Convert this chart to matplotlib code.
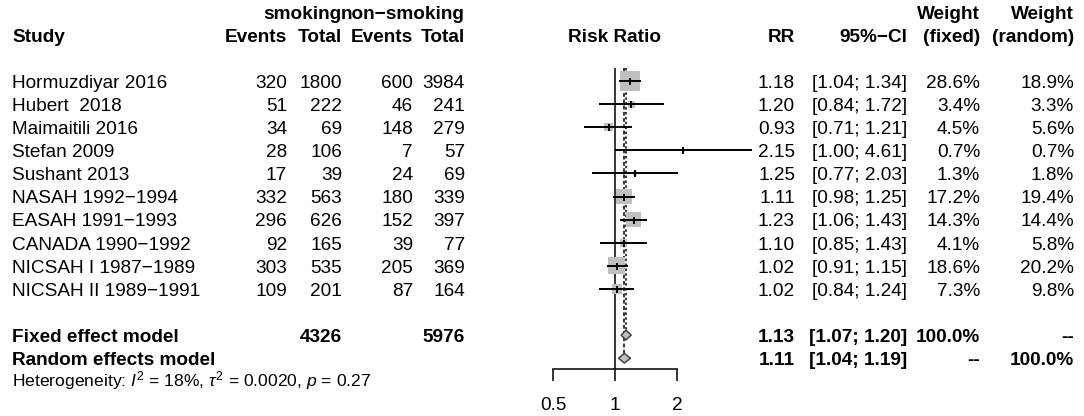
import matplotlib
matplotlib.use("Agg")
import matplotlib.pyplot as plt
from matplotlib.patches import Polygon
from matplotlib.ticker import NullLocator

plt.rcParams['font.family'] = ['Liberation Sans', 'DejaVu Sans']
plt.rcParams['mathtext.fontset'] = 'custom'
plt.rcParams['mathtext.rm'] = 'Liberation Sans'
plt.rcParams['mathtext.it'] = 'Liberation Sans:italic'
plt.rcParams['mathtext.bf'] = 'Liberation Sans:bold'

# ---------------- data ----------------
studies = ["Hormuzdiyar 2016", "Hubert  2018", "Maimaitili 2016", "Stefan 2009",
           "Sushant 2013", "NASAH 1992\u22121994", "EASAH 1991\u22121993",
           "CANADA 1990\u22121992", "NICSAH I 1987\u22121989", "NICSAH II 1989\u22121991"]
events_smoking = [320, 51, 34, 28, 17, 332, 296, 92, 303, 109]
total_smoking = [1800, 222, 69, 106, 39, 563, 626, 165, 535, 201]
events_nonsmoking = [600, 46, 148, 7, 24, 180, 152, 39, 205, 87]
total_nonsmoking = [3984, 241, 279, 57, 69, 339, 397, 77, 369, 164]
rr = [1.18, 1.20, 0.93, 2.15, 1.25, 1.11, 1.23, 1.10, 1.02, 1.02]
ci_low = [1.04, 0.84, 0.71, 1.00, 0.77, 0.98, 1.06, 0.85, 0.91, 0.84]
ci_high = [1.34, 1.72, 1.21, 4.61, 2.03, 1.25, 1.43, 1.43, 1.15, 1.24]
weight_fixed = [28.6, 3.4, 4.5, 0.7, 1.3, 17.2, 14.3, 4.1, 18.6, 7.3]
weight_random = [18.9, 3.3, 5.6, 0.7, 1.8, 19.4, 14.4, 5.8, 20.2, 9.8]

fixed_rr, fixed_low, fixed_high = 1.13, 1.07, 1.20
random_rr, random_low, random_high = 1.11, 1.04, 1.19
fixed_total_smoking, fixed_total_nonsmoking = 4326, 5976
heterogeneity = r"Heterogeneity: $I^2$ = 18%, $\tau^2$ = 0.0020, $p$ = 0.27"
xticks = [0.5, 1, 2]
xticklabels = ["0.5", "1", "2"]

# ---------------- layout ----------------
W, H, DPI = 1084, 416, 100
fig = plt.figure(figsize=(W / DPI, H / DPI), dpi=DPI)
fig.patch.set_facecolor('white')
tax = fig.add_axes([0, 0, 1, 1])
tax.set_xlim(0, W)
tax.set_ylim(H, 0)
tax.axis('off')

ROW0, DY = 81, 23.1
FS = 13.7
X_EV1, X_TOT1, X_EV2, X_TOT2 = 287, 342, 413, 465
X_RR, X_CI, X_WF, X_WR = 795, 907, 980, 1074


def rowy(r):
    return ROW0 + DY * r


def txt(x, r, s, ha='right', bold=False, size=FS):
    tax.text(x, rowy(r) + 0.358 * size * DPI / 72, s, ha=ha, va='baseline',
             fontsize=size, fontweight='bold' if bold else 'normal', color='black')


# headers
txt(341, -3, "smoking", bold=True)
txt(341, -3, "non\u2212smoking", ha='left', bold=True)
txt(12, -2, "Study", ha='left', bold=True)
txt(X_EV1, -2, "Events", bold=True)
txt(X_TOT1, -2, "Total", bold=True)
txt(X_EV2, -2, "Events", bold=True)
txt(X_TOT2, -2, "Total", bold=True)
txt(614, -2, "Risk Ratio", ha='center', bold=True)
txt(X_RR, -2, "RR", bold=True)
txt(X_CI, -2, "95%\u2212CI", bold=True)
txt(X_WF, -3, "Weight", bold=True)
txt(X_WF, -2, "(fixed)", bold=True)
txt(X_WR, -3, "Weight", bold=True)
txt(X_WR, -2, "(random)", bold=True)

for i, name in enumerate(studies):
    txt(12, i, name, ha='left')
    txt(X_EV1, i, str(events_smoking[i]))
    txt(X_TOT1, i, str(total_smoking[i]))
    txt(X_EV2, i, str(events_nonsmoking[i]))
    txt(X_TOT2, i, str(total_nonsmoking[i]))
    txt(X_RR, i, f"{rr[i]:.2f}")
    txt(X_CI, i, f"[{ci_low[i]:.2f}; {ci_high[i]:.2f}]")
    txt(X_WF, i, f"{weight_fixed[i]:.1f}%")
    txt(X_WR, i, f"{weight_random[i]:.1f}%")

rf, rr_ = 11, 12
txt(12, rf, "Fixed effect model", ha='left', bold=True)
txt(X_TOT1, rf, str(fixed_total_smoking), bold=True)
txt(X_TOT2, rf, str(fixed_total_nonsmoking), bold=True)
txt(X_RR, rf, f"{fixed_rr:.2f}", bold=True)
txt(X_CI, rf, f"[{fixed_low:.2f}; {fixed_high:.2f}]", bold=True)
txt(X_WF, rf, "100.0%", bold=True)
txt(X_WR, rf, "--", bold=True)
txt(12, rr_, "Random effects model", ha='left', bold=True)
txt(X_RR, rr_, f"{random_rr:.2f}", bold=True)
txt(X_CI, rr_, f"[{random_low:.2f}; {random_high:.2f}]", bold=True)
txt(X_WF, rr_, "--", bold=True)
txt(X_WR, rr_, "100.0%", bold=True)
txt(12, 12.95, heterogeneity, ha='left', size=12.6)

# ---------------- forest panel ----------------
def px2val(px):
    return 2 ** ((px - 615) / 62)


fl, fr, ftop, fbot = 540, 770, 68, 369
ax = fig.add_axes([fl / W, 1 - fbot / H, (fr - fl) / W, (fbot - ftop) / H])
ax.set_xscale('log')
ax.set_xlim(px2val(fl), px2val(fr))
ytop, ybot = (ftop - ROW0) / DY, (fbot - ROW0) / DY
ax.set_ylim(ybot, ytop)
ax.patch.set_alpha(0)
for s in ['top', 'right', 'left']:
    ax.spines[s].set_visible(False)
ax.spines['bottom'].set_bounds(0.5, 2)
ax.spines['bottom'].set_linewidth(1.1)
ax.set_xticks(xticks)
ax.set_xticklabels(xticklabels)
ax.xaxis.set_minor_locator(NullLocator())
ax.set_yticks([])
ax.tick_params(axis='x', direction='out', length=8.6, width=1.1, pad=11.5, labelsize=FS)

rows = list(range(len(studies)))
h = 0.21
ax.axvline(1, color='black', lw=1.1, zorder=1)
ax.plot([fixed_rr, fixed_rr], [ytop, rf - h], color='black', lw=1.1,
        linestyle=(0, (1.6, 1.6)), zorder=1)
ax.plot([random_rr, random_rr], [ytop, rr_ - h], color='black', lw=1.1,
        linestyle=(0, (2.5, 1.6)), zorder=1)

sizes = [(20.6 * (w / 28.6) ** 0.5 * 0.72) ** 2 for w in weight_fixed]
ax.scatter(rr, rows, marker='s', s=sizes, color='#bfbfbf', linewidths=0, zorder=2)
ax.hlines(rows, ci_low, ci_high, color='black', lw=1.4, zorder=3)
ax.scatter(rr, rows, marker='|', s=(7 * 0.72) ** 2, color='black', linewidths=1.4, zorder=4)

for r, est, lo, hi in [(rf, fixed_rr, fixed_low, fixed_high), (rr_, random_rr, random_low, random_high)]:
    ax.add_patch(Polygon([[lo, r], [est, r - h], [hi, r], [est, r + h]], closed=True,
                         facecolor='#bebebe', edgecolor='#3a3a3a', lw=1.0, zorder=3))

fig.savefig("out.png", dpi=DPI, facecolor='white')
